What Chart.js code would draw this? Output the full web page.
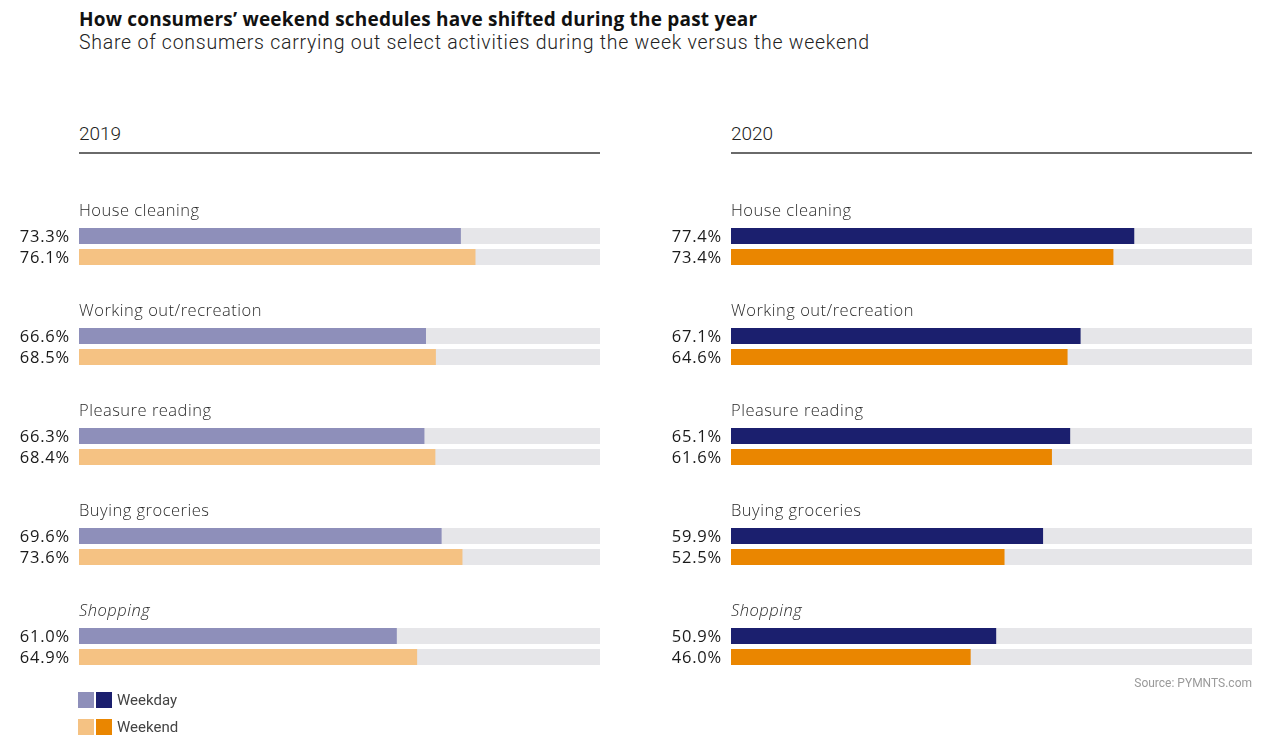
<!DOCTYPE html>
<html>
<head>
<meta charset="utf-8">
<script src="https://cdn.jsdelivr.net/npm/chart.js@4.4.1/dist/chart.umd.min.js"></script>
<style>
  body { margin: 0; background: #fff; font-family: Roboto, sans-serif; }
  #page { position: relative; width: 1275px; height: 753px; overflow: hidden; }
  .abs { position: absolute; }
  #title { left: 79px; top: 6px; font-family: "Open Sans"; font-size: 19px; font-weight: 700; color: #111; letter-spacing: 0.2px; }
  #subtitle { left: 79px; top: 31px; font-size: 19.5px; color: #222; font-weight: 300; letter-spacing: 0.75px; }
  .year { font-size: 19px; color: #222; font-weight: 300; top: 122px; }
  .rule { height: 2px; background: #6a6a6a; top: 152px; width: 521px; }
  .legend { left: 78px; font-size: 15px; color: #444; display: flex; align-items: center; }
  .sw { width: 16px; height: 16px; margin-right: 2px; }
  .legend span.t { margin-left: 3px; }
  #source { right: 23px; top: 676px; font-size: 12px; color: #9a9a9a; }
  canvas { position: absolute; }
</style>
</head>
<body>
<div id="page">
  <div id="title" class="abs">How consumers’ weekend schedules have shifted during the past year</div>
  <div id="subtitle" class="abs">Share of consumers carrying out select activities during the week versus the weekend</div>

  <div class="abs year" style="left:79px">2019</div>
  <div class="abs rule" style="left:79px"></div>
  <div class="abs year" style="left:731px">2020</div>
  <div class="abs rule" style="left:731px"></div>

  <div style="position:absolute;left:0;top:180px;width:620px;height:540px"><canvas id="c2019"></canvas></div>
  <div style="position:absolute;left:640px;top:180px;width:635px;height:540px"><canvas id="c2020"></canvas></div>

  <div class="abs legend" style="top:691px">
    <div class="sw" style="background:#8e8fba"></div><div class="sw" style="background:#1b1f6e"></div><span class="t">Weekday</span>
  </div>
  <div class="abs legend" style="top:718px">
    <div class="sw" style="background:#f5c283"></div><div class="sw" style="background:#ea8600"></div><span class="t">Weekend</span>
  </div>
  <div id="source" class="abs">Source: PYMNTS.com</div>
</div>

<script>
// категории и значения
const categories = ['House cleaning', 'Working out/recreation', 'Pleasure reading', 'Buying groceries', 'Shopping'];
const weekday2019 = [73.3, 66.6, 66.3, 69.6, 61.0];
const weekend2019 = [76.1, 68.5, 68.4, 73.6, 64.9];
const weekday2020 = [77.4, 67.1, 65.1, 59.9, 50.9];
const weekend2020 = [73.4, 64.6, 61.6, 52.5, 46.0];

// серый фон под полосками, подписи категорий и значений
const barDecor = {
    id: 'barDecor',
    beforeDatasetsDraw(chart) {
        const ctx = chart.ctx;
        const x = chart.scales.x;
        ctx.save();
        ctx.fillStyle = '#e6e6e9';
        chart.data.datasets.forEach((ds, i) => {
            chart.getDatasetMeta(i).data.forEach(bar => {
                ctx.fillRect(x.getPixelForValue(0), bar.y - bar.height / 2, x.getPixelForValue(100) - x.getPixelForValue(0), bar.height);
            });
        });
        ctx.restore();
    },
    afterDatasetsDraw(chart) {
        const ctx = chart.ctx;
        const left = chart.chartArea.left;
        ctx.save();
        chart.data.datasets.forEach((ds, i) => {
            chart.getDatasetMeta(i).data.forEach((bar, j) => {
                ctx.font = '16.5px "Open Sans"';
                ctx.letterSpacing = '0.8px';
                ctx.fillStyle = '#1a1a1a';
                ctx.textAlign = 'right';
                ctx.textBaseline = 'middle';
                ctx.fillText(ds.data[j].toFixed(1) + '%', left - 9, bar.y + 1.5);
                if (i === 0) {
                    const cat = chart.data.labels[j];
                    ctx.font = (cat === 'Shopping' ? 'italic ' : '') + '300 16.5px "Open Sans"';
                    ctx.letterSpacing = '0.5px';
                    ctx.fillStyle = '#2a2a2a';
                    ctx.textAlign = 'left';
                    ctx.textBaseline = 'alphabetic';
                    ctx.fillText(cat, left, bar.y - bar.height / 2 - 12);
                }
            });
        });
        ctx.restore();
    }
};

function makeChart(id, weekday, weekend, colors, padLeft, padRight) {
    return new Chart(document.getElementById(id), {
        type: 'bar',
        data: {
            labels: categories,
            datasets: [
                { label: 'Weekday', data: weekday, backgroundColor: colors[0] },
                { label: 'Weekend', data: weekend, backgroundColor: colors[1] }
            ]
        },
        options: {
            indexAxis: 'y',
            responsive: true,
            maintainAspectRatio: false,
            animation: false,
            barPercentage: 0.762,
            categoryPercentage: 0.42,
            layout: { padding: { left: padLeft, right: padRight, top: 16.5, bottom: 23.5 } },
            plugins: { legend: { display: false }, tooltip: { enabled: false } },
            scales: {
                x: { display: false, min: 0, max: 100 },
                y: { display: false }
            }
        },
        plugins: [barDecor]
    });
}

makeChart('c2019', weekday2019, weekend2019, ['#8e8fba', '#f5c283'], 79, 20);
makeChart('c2020', weekday2020, weekend2020, ['#1b1f6e', '#ea8600'], 91, 23);
</script>
</body>
</html>
